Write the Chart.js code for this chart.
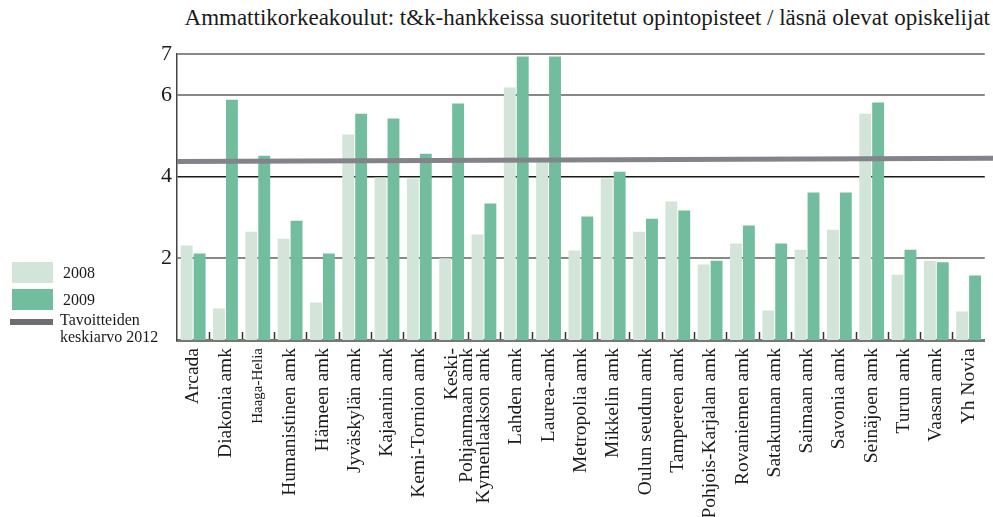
<!DOCTYPE html>
<html>
<head>
<meta charset="utf-8">
<script src="https://cdn.jsdelivr.net/npm/chart.js@4/dist/chart.umd.min.js"></script>
<style>
    html, body { margin: 0; padding: 0; overflow: hidden; background: #fff; }
    body { width: 993px; height: 517px; position: relative; font-family: 'Liberation Serif', serif; color: #1a1a1a; }
    #chart { position: absolute; left: 0; top: 0; }
    .title { position: absolute; right: 3px; top: 5px; font-size: 23px; white-space: nowrap; }
    .legend { position: absolute; left: 10px; top: 262px; font-size: 16px; white-space: nowrap; }
    .legend .item { position: relative; height: 27px; }
    .legend .swatch { position: absolute; left: 2px; width: 41px; height: 21px; }
    .legend .txt { position: absolute; left: 53px; top: 2px; }
    .legend .line { position: absolute; left: 0; top: 3px; width: 43px; height: 6px; background: #6d6d72; }
</style>
</head>
<body>
<div class="title">Ammattikorkeakoulut: t&amp;k-hankkeissa suoritetut opintopisteet / läsnä olevat opiskelijat</div>
<canvas id="chart" width="1000" height="517"></canvas>
<div class="legend">
    <div class="item"><span class="swatch" style="background:#d2e5d8"></span><span class="txt">2008</span></div>
    <div class="item"><span class="swatch" style="background:#72bd9e"></span><span class="txt">2009</span></div>
    <div class="item"><span class="line"></span><span class="txt" style="left:50px;top:-5px;line-height:17px">Tavoitteiden<br>keskiarvo 2012</span></div>
</div>
<script>
const schools = [
    'Arcada', 'Diakonia amk', 'Haaga-Helia', 'Humanistinen amk', 'Hämeen amk',
    'Jyväskylän amk', 'Kajaanin amk', 'Kemi-Tornion amk', ['Keski-', 'Pohjanmaan amk'],
    'Kymenlaakson amk', 'Lahden amk', 'Laurea-amk', 'Metropolia amk', 'Mikkelin amk',
    'Oulun seudun amk', 'Tampereen amk', 'Pohjois-Karjalan amk', 'Rovaniemen amk',
    'Satakunnan amk', 'Saimaan amk', 'Savonia amk', 'Seinäjoen amk', 'Turun amk',
    'Vaasan amk', 'Yh Novia'
];
const values2008 = [2.31, 0.77, 2.65, 2.48, 0.92, 5.03, 3.98, 3.95, 2.00, 2.58, 6.18, 4.36, 2.19,
    3.95, 2.65, 3.39, 1.85, 2.36, 0.72, 2.21, 2.70, 5.54, 1.60, 1.94, 0.70];
const values2009 = [2.12, 5.88, 4.51, 2.92, 2.12, 5.54, 5.42, 4.56, 5.79, 3.34, 6.94, 6.94, 3.02,
    4.12, 2.97, 3.17, 1.94, 2.80, 2.36, 3.61, 3.61, 5.81, 2.21, 1.90, 1.58];
// target average 2012, value at left edge and at right edge of the plot
const target2012 = [4.37, 4.45];
const yTicks = [2, 4, 6, 7];

const extras = {
    id: 'extras',
    afterDatasetsDraw(chart) {
        const { ctx, chartArea, scales: { x, y } } = chart;
        ctx.save();
        // small marks between the schools, standing on the axis
        ctx.strokeStyle = '#333';
        ctx.lineWidth = 1.5;
        for (let i = 1; i < schools.length; i++) {
            const px = Math.round((x.getPixelForValue(i - 1) + x.getPixelForValue(i)) / 2) + 0.5;
            ctx.beginPath();
            ctx.moveTo(px, chartArea.bottom - 8);
            ctx.lineTo(px, chartArea.bottom - 1);
            ctx.stroke();
        }
        // target line
        ctx.strokeStyle = '#838389';
        ctx.lineWidth = 5;
        ctx.beginPath();
        ctx.moveTo(chartArea.left, y.getPixelForValue(target2012[0]));
        ctx.lineTo(993, y.getPixelForValue(target2012[1]));
        ctx.stroke();
        ctx.restore();
    }
};

new Chart(document.getElementById('chart'), {
    type: 'bar',
    data: {
        labels: schools,
        datasets: [
            { label: '2008', data: values2008, backgroundColor: '#d2e5d8' },
            { label: '2009', data: values2009, backgroundColor: '#72bd9e' }
        ]
    },
    options: {
        responsive: false,
        animation: false,
        categoryPercentage: 0.8,
        barPercentage: 0.92,
        layout: { padding: { top: 54, left: 0, right: 0, bottom: 0 } },
        plugins: {
            legend: { display: false },
            title: { display: false },
            tooltip: { enabled: false }
        },
        scales: {
            x: {
                grid: { display: false, drawTicks: false },
                border: { display: true, color: '#777', width: 3 },
                ticks: {
                    autoSkip: false,
                    minRotation: 90,
                    maxRotation: 90,
                    padding: 8,
                    color: '#1a1a1a',
                    font: (c) => ({
                        family: 'Liberation Serif',
                        size: c.index === 2 ? 15 : 19.5,
                        lineHeight: c.index === 8 ? 0.78 : 1.2
                    })
                },
                afterFit: (s) => { s.height = 177; }
            },
            y: {
                min: 0,
                max: 7,
                afterBuildTicks: (s) => { s.ticks = yTicks.map(v => ({ value: v })); },
                afterFit: (s) => { s.width = 177; },
                grid: {
                    drawTicks: false,
                    color: (c) => c.tick && c.tick.value === 4 ? '#1a1a1a' : '#888',
                    lineWidth: (c) => c.tick && c.tick.value === 4 ? 1.5 : 2
                },
                border: { display: true, color: '#444', width: 1.5 },
                ticks: {
                    padding: 5,
                    color: '#1a1a1a',
                    font: { family: 'Liberation Serif', size: 22 }
                }
            }
        }
    },
    plugins: [extras]
});
</script>
</body>
</html>
